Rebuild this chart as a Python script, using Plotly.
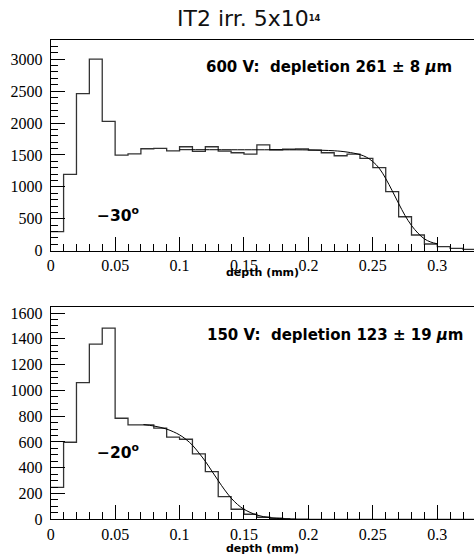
import plotly.graph_objects as go

# histogram bins (depth in mm), 0.01 mm wide
bin_edges = [round(i * 0.01, 2) for i in range(34)]

counts_600v = [300, 1195, 2460, 3000, 2025, 1498, 1518, 1597, 1602, 1565,
               1628, 1555, 1628, 1560, 1534, 1513, 1659, 1581, 1590, 1595,
               1576, 1534, 1487, 1513, 1446, 1300, 924, 532, 246, 105,
               63, 37, 22]

counts_150v = [248, 598, 1061, 1359, 1483, 784, 732, 732, 707, 637,
               621, 507, 370, 176, 78, 39, 16, 8, 3, 1,
               0, 0, 0, 0, 0, 0, 0, 0, 0, 0,
               0, 0, 0]

# fit curves
fit_600v_x = [0.10, 0.14, 0.18, 0.20, 0.22, 0.23, 0.24, 0.245, 0.25, 0.255,
              0.26, 0.265, 0.27, 0.275, 0.28, 0.285, 0.29, 0.295, 0.30]
fit_600v_y = [1582, 1581, 1580, 1578, 1565, 1545, 1505, 1465, 1395, 1290,
              1130, 940, 740, 550, 395, 275, 185, 135, 108]

fit_150v_x = [0.072, 0.08, 0.09, 0.10, 0.105, 0.11, 0.115, 0.12, 0.125, 0.13,
              0.135, 0.14, 0.145, 0.15, 0.16, 0.17, 0.18, 0.186]
fit_150v_y = [735, 724, 700, 655, 620, 575, 515, 450, 375, 300,
              228, 165, 115, 78, 33, 13, 5, 3]

W, H = 474, 556
X0 = 50.7  # left edge of both frames, px


def px(x):
    return x / W


def py(y):
    return 1 - y / H


def steps(counts):
    return bin_edges, counts + [counts[-1]]


fig = go.Figure()

hx, hy = steps(counts_600v)
fig.add_trace(go.Scatter(x=hx, y=hy, mode="lines", line=dict(color="#333", width=1.3, shape="hv"),
                         xaxis="x", yaxis="y", showlegend=False))
fig.add_trace(go.Scatter(x=fit_600v_x, y=fit_600v_y, mode="lines",
                         line=dict(color="black", width=1, shape="spline"),
                         xaxis="x", yaxis="y", showlegend=False))

hx, hy = steps(counts_150v)
fig.add_trace(go.Scatter(x=hx, y=hy, mode="lines", line=dict(color="#333", width=1.3, shape="hv"),
                         xaxis="x2", yaxis="y2", showlegend=False))
fig.add_trace(go.Scatter(x=fit_150v_x, y=fit_150v_y, mode="lines",
                         line=dict(color="black", width=1, shape="spline"),
                         xaxis="x2", yaxis="y2", showlegend=False))

tick_font = dict(family="Liberation Serif", size=16, color="black")


def xaxis():
    return dict(
        domain=[px(X0), 1], range=[0, 0.3285],
        showgrid=False, zeroline=False, showline=True, linecolor="black", linewidth=1,
        mirror=True, ticks="inside", ticklen=14, tickwidth=1, tickcolor="black",
        tick0=0, dtick=0.05, tickfont=tick_font, tickformat="~g",
        minor=dict(dtick=0.01, ticks="inside", ticklen=7, tickcolor="black", tickwidth=1),
        fixedrange=True, automargin=False,
    )


def yaxis(y0, y1, top, dtick, minor):
    return dict(
        domain=[py(y1), py(y0)], range=[0, top],
        showgrid=False, zeroline=False, showline=True, linecolor="black", linewidth=1,
        ticks="inside", ticklen=14, tickwidth=1, tickcolor="black",
        dtick=dtick, tickfont=tick_font, ticklabelstandoff=4,
        minor=dict(dtick=minor, ticks="inside", ticklen=7, tickcolor="black", tickwidth=1),
        fixedrange=True, automargin=False,
    )


xa1 = xaxis()
xa1["anchor"] = "y"
xa2 = xaxis()
xa2["anchor"] = "y2"
ya1 = yaxis(40, 250.7, 3300, 500, 100)
ya1["anchor"] = "x"
ya2 = yaxis(307.3, 519.3, 1645, 200, 50)
ya2["anchor"] = "x2"

label_font = dict(family="DejaVu Sans", size=15, color="black")
angle_font = dict(family="DejaVu Sans", size=15.5, color="black")
axis_title_font = dict(family="DejaVu Sans", size=11, color="black")

annotations = [
    dict(text="IT2 irr. 5x10<span style='font-size:12px'><sup><b>14</b></sup></span>",
         x=px(249), y=py(18),
         font=dict(family="DejaVu Sans", size=22, color="#111")),
    dict(text="<b>600 V:  depletion 261 ± 8 <i>μ</i>m</b>", x=px(204), y=py(67),
         xanchor="left", font=label_font),
    dict(text="<b>150 V:  depletion 123 ± 19 <i>μ</i>m</b>", x=px(205), y=py(335),
         xanchor="left", font=label_font),
    dict(text="<b>−30<sup>o</sup></b>", x=px(95), y=py(214), xanchor="left", font=angle_font),
    dict(text="<b>−20<sup>o</sup></b>", x=px(95), y=py(451), xanchor="left", font=angle_font),
    dict(text="<b>depth (mm)</b>", x=px(262), y=py(272), font=axis_title_font),
    dict(text="<b>depth (mm)</b>", x=px(262), y=py(548), font=axis_title_font),
]
for a in annotations:
    a.update(xref="paper", yref="paper", showarrow=False)
    a.setdefault("xanchor", "center")
    a.setdefault("yanchor", "middle")

fig.update_layout(
    width=W, height=H,
    margin=dict(l=0, r=0, t=0, b=0),
    paper_bgcolor="white", plot_bgcolor="white",
    xaxis=xa1, yaxis=ya1, xaxis2=xa2, yaxis2=ya2,
    annotations=annotations,
    showlegend=False,
)

# page body has a default 8px margin; drop it so the figure fills the window
fig.write_html("out.html", config={"displayModeBar": False},
               post_script="document.body.style.margin='0';")
